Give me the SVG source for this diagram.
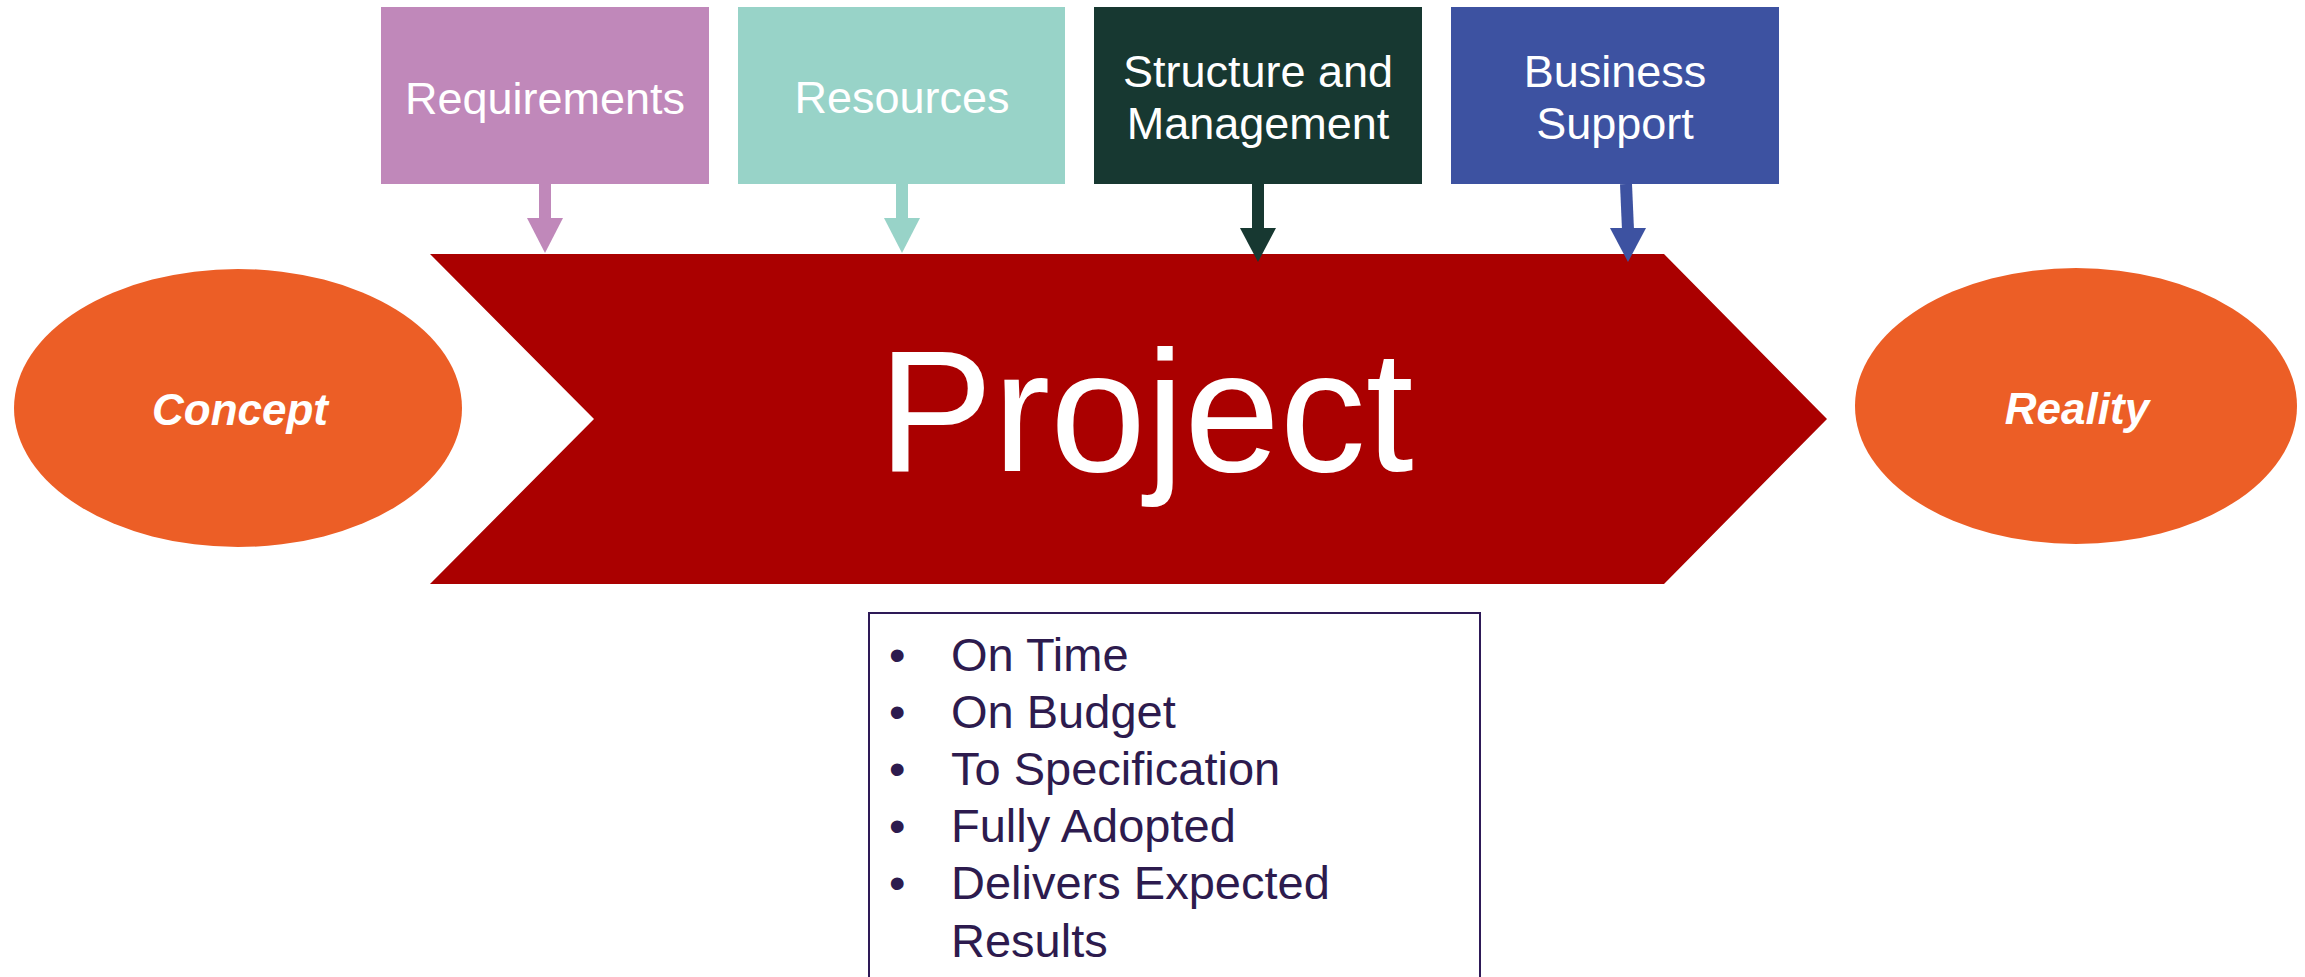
<svg xmlns="http://www.w3.org/2000/svg" width="2305" height="977" viewBox="0 0 2305 977">
<style>
.lbl{font-family:"Liberation Sans",Arial,sans-serif;font-size:45px;fill:#ffffff;text-anchor:middle}
.oval{fill:#ec5e26}
.ovt{font-family:"Liberation Sans",Arial,sans-serif;font-size:44px;font-weight:bold;font-style:italic;fill:#ffffff;text-anchor:middle}
.bul{font-family:"Liberation Sans",Arial,sans-serif;font-size:47px;fill:#2d1b4e}
</style>
<rect width="2305" height="977" fill="#ffffff"/>
<g id="project">
<polygon points="430,254 1664,254 1827,419 1664,584 430,584 594,419" fill="#aa0000"/>
<text x="1146" y="471" font-family="'Liberation Sans',Arial,sans-serif" font-size="172" fill="#ffffff" text-anchor="middle">Project</text>
</g>
<g id="concept">
<ellipse class="oval" cx="238" cy="408" rx="224" ry="139"/>
<text class="ovt" x="240" y="425">Concept</text>
</g>
<g id="reality">
<ellipse class="oval" cx="2076" cy="406" rx="221" ry="138"/>
<text class="ovt" x="2077" y="424">Reality</text>
</g>
<g id="requirements">
<rect x="381" y="7" width="328" height="177" fill="#c088ba"/>
<text class="lbl" x="545" y="114">Requirements</text>
</g>
<g id="resources">
<rect x="738" y="7" width="327" height="177" fill="#98d3c8"/>
<text class="lbl" x="902" y="113">Resources</text>
</g>
<g id="structure">
<rect x="1094" y="7" width="328" height="177" fill="#173831"/>
<text class="lbl" x="1258" y="87">Structure and</text>
<text class="lbl" x="1258" y="139">Management</text>
</g>
<g id="business">
<rect x="1451" y="7" width="328" height="177" fill="#3d52a1"/>
<text class="lbl" x="1615" y="87">Business</text>
<text class="lbl" x="1615" y="139">Support</text>
</g>
<g id="connectors">
<line x1="545" y1="184" x2="545" y2="220" stroke="#c088ba" stroke-width="12"/>
<polygon points="527,218 563,218 545,253" fill="#c088ba"/>
<line x1="902" y1="184" x2="902" y2="220" stroke="#98d3c8" stroke-width="12"/>
<polygon points="884,218 920,218 902,253" fill="#98d3c8"/>
<line x1="1258" y1="184" x2="1258" y2="230" stroke="#173831" stroke-width="12"/>
<polygon points="1240,228 1276,228 1258,262" fill="#173831"/>
<line x1="1626" y1="184" x2="1628" y2="230" stroke="#3d52a1" stroke-width="12"/>
<polygon points="1610,228 1646,228 1628,262" fill="#3d52a1"/>
</g>
<g id="outcomes">
<rect x="869" y="613" width="611" height="380" fill="#ffffff" stroke="#2e1a57" stroke-width="2"/>
<text class="bul" x="889" y="671">•</text>
<text class="bul" x="951" y="671">On Time</text>
<text class="bul" x="889" y="728">•</text>
<text class="bul" x="951" y="728">On Budget</text>
<text class="bul" x="889" y="785">•</text>
<text class="bul" x="951" y="785">To Specification</text>
<text class="bul" x="889" y="842">•</text>
<text class="bul" x="951" y="842">Fully Adopted</text>
<text class="bul" x="889" y="899">•</text>
<text class="bul" x="951" y="899">Delivers Expected</text>
<text class="bul" x="951" y="957">Results</text>
</g>
</svg>
